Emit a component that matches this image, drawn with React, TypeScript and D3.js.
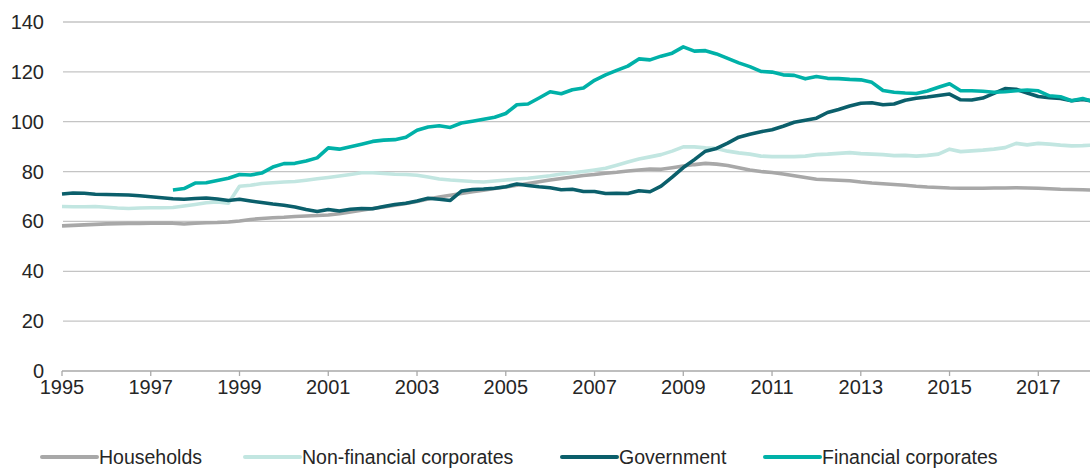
import React from "react";
import * as d3 from "d3";

const START_YEAR = 1995; // first quarter of the quarterly series
const FIN_START = 1997.5; // financial corporates start

const households = [
  58.2, 58.4, 58.6, 58.8, 59.0, 59.1, 59.2, 59.2, 59.3, 59.3, 59.3, 59.0,
  59.3, 59.5, 59.6, 59.8, 60.2, 60.8, 61.2, 61.5, 61.7, 62.0, 62.2, 62.4,
  62.6, 63.1, 63.8, 64.5, 65.2, 65.8, 66.5, 67.2, 68.0, 69.0, 69.8, 70.5,
  71.2, 71.9, 72.5, 73.2, 73.8, 74.5, 75.2, 75.9, 76.6, 77.2, 77.8, 78.4,
  78.8, 79.3, 79.7, 80.2, 80.6, 81.0, 80.9, 81.5, 82.2, 82.8, 83.3, 83.0,
  82.4, 81.5, 80.6, 80.0, 79.6, 79.0, 78.3, 77.6, 76.9, 76.7, 76.5, 76.3,
  75.8, 75.4, 75.1, 74.8, 74.5, 74.1, 73.8, 73.6, 73.4, 73.3, 73.3, 73.3,
  73.4, 73.4, 73.5, 73.4, 73.3, 73.1, 72.9, 72.8, 72.7, 72.6,
];

const nonFinancial = [
  66.0, 65.9, 65.9, 66.0, 65.7, 65.4, 65.2, 65.4, 65.5, 65.5, 65.6, 66.2,
  66.8, 67.5, 67.8, 67.3, 74.1, 74.5, 75.2, 75.5, 75.8, 76.0, 76.5, 77.1,
  77.6, 78.2, 78.8, 79.5, 79.5, 79.2, 78.9, 78.8, 78.5, 77.8, 77.0, 76.6,
  76.3, 76.0, 75.8, 76.2, 76.6, 77.0, 77.3, 77.8, 78.3, 79.0, 79.5, 80.0,
  80.6, 81.3, 82.5, 83.8, 85.0, 85.9, 86.8, 88.2, 89.9, 89.9, 89.5, 89.3,
  88.2, 87.5, 87.0, 86.2, 86.0, 86.0, 86.0, 86.2, 86.8, 87.0, 87.3, 87.6,
  87.2, 87.0, 86.8, 86.4, 86.5, 86.2, 86.5, 87.0, 89.0, 88.0, 88.3, 88.6,
  89.0, 89.6, 91.3, 90.7, 91.3, 91.0, 90.6, 90.3, 90.4, 90.6,
];

const government = [
  71.0, 71.4, 71.3, 70.9, 70.8, 70.7, 70.6, 70.3, 69.9, 69.5, 69.1, 68.9,
  69.2, 69.4, 69.0, 68.4, 68.9, 68.2, 67.6, 67.0, 66.5, 65.8, 64.8, 64.0,
  64.8, 64.2, 64.9, 65.2, 65.1, 66.0, 66.8, 67.3, 68.2, 69.3, 68.9, 68.4,
  72.2, 72.8, 73.0, 73.3, 73.9, 75.0, 74.4, 73.9, 73.5, 72.7, 72.9, 72.0,
  72.0, 71.2, 71.3, 71.2, 72.3, 71.9, 74.2, 77.8, 81.6, 84.8, 88.2, 89.3,
  91.4, 93.8, 95.0, 96.0, 96.8, 98.2, 99.8, 100.6, 101.4, 103.7, 104.9, 106.3,
  107.4, 107.6, 106.8, 107.1, 108.6, 109.4, 109.9, 110.5, 111.1, 108.8, 108.7, 109.5,
  111.4, 113.3, 113.0, 111.5, 110.1, 109.6, 109.3, 108.4, 108.9, 108.2,
];

const financial = [
  72.6, 73.2,
  75.4, 75.5, 76.4, 77.3, 78.8, 78.6, 79.4, 81.8, 83.2, 83.3, 84.2, 85.5,
  89.5, 89.0, 90.0, 91.0, 92.1, 92.6, 92.8, 93.8, 96.6, 97.9, 98.4, 97.7,
  99.5, 100.2, 101.0, 101.8, 103.3, 106.8, 107.1, 109.5, 112.0, 111.2, 112.8, 113.5,
  116.6, 118.8, 120.6, 122.3, 125.2, 124.8, 126.3, 127.5, 130.0, 128.3, 128.5, 127.2,
  125.4, 123.6, 122.1, 120.2, 119.9, 118.8, 118.6, 117.2, 118.1, 117.4, 117.3, 117.0,
  116.8, 115.8, 112.5, 111.8, 111.5, 111.3, 112.3, 113.8, 115.2, 112.4, 112.4, 112.2,
  111.8, 112.0, 112.4, 112.7, 112.4, 110.4, 110.0, 108.4, 109.3, 108.0,
];

const yTicks = [0, 20, 40, 60, 80, 100, 120, 140];
const xTicks = [1995, 1997, 1999, 2001, 2003, 2005, 2007, 2009, 2011, 2013, 2015, 2017];

const seriesNames = ["Households", "Non-financial corporates", "Government", "Financial corporates"];
const seriesColors = ["#a8a8a8", "#c2e6e1", "#0b5f6b", "#00b1a8"];

const W = 1090;
const H = 470;
const FONT = "'Liberation Sans', Arial, sans-serif";

export default function App() {
  const x = d3.scaleLinear().domain([1995, 2017]).range([62, 1038.3]);
  const y = d3.scaleLinear().domain([0, 140]).range([371, 22]);

  const toPts = (vals: number[], start: number) =>
    vals.map((v, i) => [start + i / 4, v] as [number, number]);

  const series = [
    toPts(households, START_YEAR),
    toPts(nonFinancial, START_YEAR),
    toPts(government, START_YEAR),
    toPts(financial, FIN_START),
  ];

  const line = d3
    .line<[number, number]>()
    .x((d) => x(d[0]))
    .y((d) => y(d[1]));

  const legendX = [42, 245, 562, 765];

  return (
    <svg
      width={W}
      height={H}
      style={{ position: "absolute", left: 0, top: 0, background: "#fff" }}
      fontFamily={FONT}
    >
      {yTicks.map((t) =>
        t === 0 ? null : (
          <line key={t} x1={63} x2={W} y1={y(t)} y2={y(t)} stroke="#c4c4c4" strokeWidth={1.3} />
        )
      )}
      {yTicks.map((t) => (
        <text key={"yl" + t} x={44} y={y(t)} dy="0.35em" textAnchor="end" fontSize={20} fill="#262626">
          {t}
        </text>
      ))}
      <line x1={62} x2={W} y1={y(0)} y2={y(0)} stroke="#a9a9a9" strokeWidth={1.6} />
      {xTicks.map((t) => (
        <g key={"xt" + t}>
          <line x1={x(t)} x2={x(t)} y1={y(0)} y2={y(0) + 5} stroke="#a9a9a9" strokeWidth={1.3} />
          <text x={x(t)} y={394} textAnchor="middle" fontSize={20} fill="#262626">
            {t}
          </text>
        </g>
      ))}
      {series.map((s, i) => (
        <path
          key={seriesNames[i]}
          d={line(s) || ""}
          fill="none"
          stroke={seriesColors[i]}
          strokeWidth={3.6}
          strokeLinejoin="round"
        />
      ))}
      {seriesNames.map((n, i) => (
        <g key={"lg" + n}>
          <line
            x1={legendX[i]}
            x2={legendX[i] + 55}
            y1={457}
            y2={457}
            stroke={seriesColors[i]}
            strokeWidth={4}
            strokeLinecap="round"
          />
          <text x={legendX[i] + 57} y={457} dy="0.35em" fontSize={19.5} fill="#262626">
            {n}
          </text>
        </g>
      ))}
    </svg>
  );
}
